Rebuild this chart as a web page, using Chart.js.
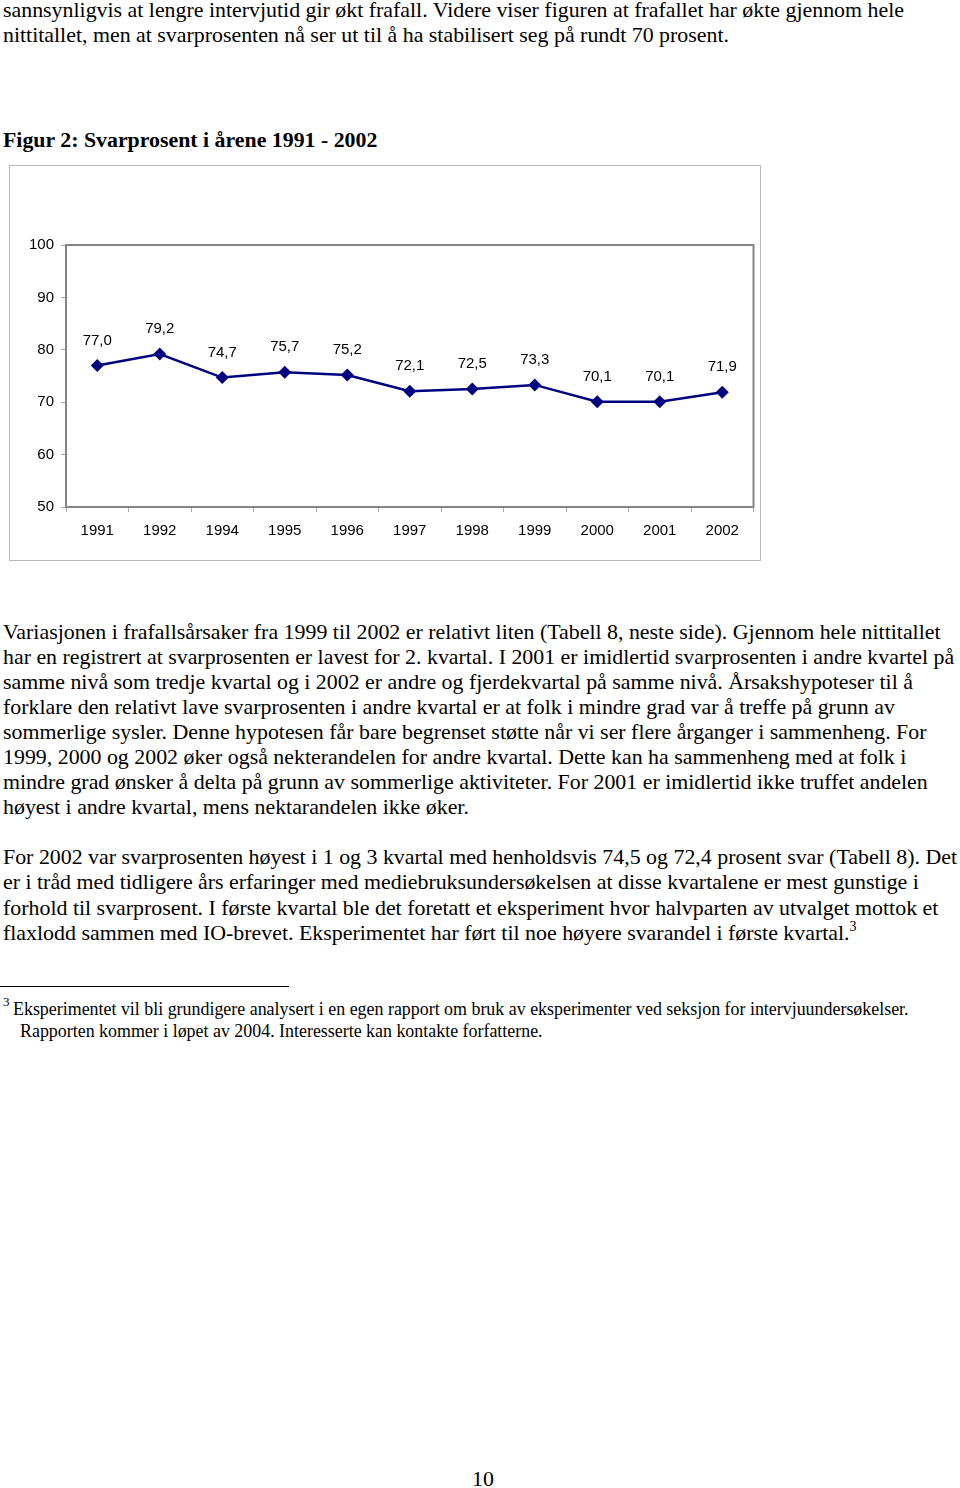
<!DOCTYPE html>
<html>
<head>
<meta charset="utf-8">
<script src="https://cdn.jsdelivr.net/npm/chart.js@4.4.0/dist/chart.umd.min.js"></script>
<style>
  body { margin: 0; background: #fff; width: 960px; height: 1488px; position: relative; overflow: hidden; color: #000; }
  .ln { position: absolute; white-space: nowrap; transform-origin: 0 0; font-family: "Liberation Serif", "Times New Roman", serif; }
  .sup { position: relative; line-height: 0; }
  #frame { position: absolute; left: 9px; top: 165px; width: 752px; height: 396px; border: 1px solid #b8b8b8; box-sizing: border-box; }
  #wrap { position: absolute; left: 10px; top: 166px; width: 750px; height: 394px; }
  #rule { position: absolute; left: 0; top: 986px; width: 289px; height: 1px; background: #000; }
</style>
</head>
<body>
<div id="frame"></div>
<div id="wrap"><canvas id="chart" width="750" height="394"></canvas></div>
<div id="rule"></div>

<script>
// chart data
const years = ['1991', '1992', '1994', '1995', '1996', '1997', '1998', '1999', '2000', '2001', '2002']
const svarprosent = [77.0, 79.2, 74.7, 75.7, 75.2, 72.1, 72.5, 73.3, 70.1, 70.1, 71.9]
const yMin = 50
const yMax = 100
const yStep = 10

// page text
const introLines = [
  'sannsynligvis at lengre intervjutid gir økt frafall. Videre viser figuren at frafallet har økte gjennom hele',
  'nittitallet, men at svarprosenten nå ser ut til å ha stabilisert seg på rundt 70 prosent.'
]
const figTitle = 'Figur 2: Svarprosent i årene 1991 - 2002'
const para1Lines = [
  'Variasjonen i frafallsårsaker fra 1999 til 2002 er relativt liten (Tabell 8, neste side). Gjennom hele nittitallet',
  'har en registrert at svarprosenten er lavest for 2. kvartal. I 2001 er imidlertid svarprosenten i andre kvartel på',
  'samme nivå som tredje kvartal og i 2002 er andre og fjerdekvartal på samme nivå. Årsakshypoteser til å',
  'forklare den relativt lave svarprosenten i andre kvartal er at folk i mindre grad var å treffe på grunn av',
  'sommerlige sysler. Denne hypotesen får bare begrenset støtte når vi ser flere årganger i sammenheng. For',
  '1999, 2000 og 2002 øker også nekterandelen for andre kvartal. Dette kan ha sammenheng med at folk i',
  'mindre grad ønsker å delta på grunn av sommerlige aktiviteter. For 2001 er imidlertid ikke truffet andelen',
  'høyest i andre kvartal, mens nektarandelen ikke øker.'
]
const para2Lines = [
  'For 2002 var svarprosenten høyest i 1 og 3 kvartal med henholdsvis 74,5 og 72,4 prosent svar (Tabell 8). Det',
  'er i tråd med tidligere års erfaringer med mediebruksundersøkelsen at disse kvartalene er mest gunstige i',
  'forhold til svarprosent. I første kvartal ble det foretatt et eksperiment hvor halvparten av utvalget mottok et',
  'flaxlodd sammen med IO-brevet. Eksperimentet har ført til noe høyere svarandel i første kvartal.'
]
const noteLines = [
  'Eksperimentet vil bli grundigere analysert i en egen rapport om bruk av eksperimenter ved seksjon for intervjuundersøkelser.',
  'Rapporten kommer i løpet av 2004. Interesserte kan kontakte forfatterne.'
]
const pageNo = '10'

// measure helper, used to size the serif text to the page
const mctx = document.createElement('canvas').getContext('2d')
function textWidth(txt, size, weight) {
  mctx.font = `${weight || 'normal'} ${size}px "Liberation Serif"`
  return mctx.measureText(txt).width
}

// put one line of text with its baseline at y
function place(txt, x, base, size, opts) {
  opts = opts || {}
  const d = document.createElement('div')
  d.className = 'ln'
  d.style.fontSize = size + 'px'
  d.style.lineHeight = size + 'px'
  d.style.left = x + 'px'
  d.style.top = (base - 0.8375 * size) + 'px'
  if (opts.bold) d.style.fontWeight = 'bold'
  if (opts.sx) d.style.transform = `scaleX(${opts.sx})`
  d.textContent = txt
  if (opts.sup) {
    const s = document.createElement('span')
    s.className = 'sup'
    s.textContent = opts.sup
    s.style.fontSize = Math.round(size * 0.62) + 'px'
    s.style.top = -Math.round(size * 0.42) + 'px'
    d.appendChild(s)
  }
  document.body.appendChild(d)
  return d
}

function layoutText() {
  // body size from the first paragraph line width in the page
  const bodySize = 20 * 938 / textWidth(para1Lines[0], 20)
  introLines.forEach((t, i) => place(t, 3, 18 + i * 25, bodySize))

  const titleSize = 20 * 375 / textWidth(figTitle, 20, 'bold')
  place(figTitle, 3, 148, titleSize, { bold: true })

  para1Lines.forEach((t, i) => place(t, 3, 640 + i * 25.1, bodySize))

  // second paragraph is set narrower in the original
  const sx = 954 / textWidth(para2Lines[0], bodySize)
  para2Lines.forEach((t, i) => place(t, 3, 865 + i * 25.6, bodySize, {
    sx: sx, sup: i === para2Lines.length - 1 ? '3' : null
  }))

  const noteSize = 20 * 896 / textWidth(noteLines[0], 20)
  place('3', 3, 1006, Math.round(noteSize * 0.7))
  place(noteLines[0], 13, 1016.5, noteSize)
  place(noteLines[1], 20, 1038.5, noteSize)

  place(pageNo, 472, 1487, bodySize)
}

// frame round the plot area
const plotFrame = {
  id: 'plotFrame',
  beforeDatasetsDraw(chart) {
    const { ctx, chartArea: a } = chart
    ctx.save()
    ctx.strokeStyle = '#858585'
    ctx.lineWidth = 2
    ctx.strokeRect(a.left, a.top, a.right - a.left, a.bottom - a.top)
    ctx.restore()
  }
}

// value labels above the points, comma decimals
const valueLabels = {
  id: 'valueLabels',
  afterDatasetsDraw(chart) {
    const { ctx } = chart
    const meta = chart.getDatasetMeta(0)
    ctx.save()
    ctx.font = '15px "Liberation Sans", Arial, sans-serif'
    ctx.fillStyle = '#000'
    ctx.textAlign = 'center'
    ctx.textBaseline = 'middle'
    meta.data.forEach((pt, i) => {
      const v = chart.data.datasets[0].data[i]
      ctx.fillText(v.toFixed(1).replace('.', ','), pt.x, pt.y - 25)
    })
    ctx.restore()
  }
}

function drawChart() {
  const ctx = document.getElementById('chart').getContext('2d')
  new Chart(ctx, {
    type: 'line',
    data: {
      labels: years,
      datasets: [{
        label: 'Svarprosent',
        data: svarprosent,
        borderColor: '#000080',
        backgroundColor: '#000080',
        borderWidth: 2.5,
        pointStyle: 'rectRot',
        pointRadius: 6.5,
        pointBorderWidth: 0,
        tension: 0,
      }]
    },
    options: {
      responsive: false,
      animation: false,
      devicePixelRatio: 1,
      layout: { padding: { top: 79, right: 1, bottom: 0, left: 0 } },
      plugins: { legend: { display: false }, tooltip: { enabled: false } },
      scales: {
        x: {
          offset: true,
          grid: { offset: true, drawOnChartArea: false, drawTicks: true, tickLength: 5, color: '#a8a8a8' },
          border: { color: '#858585', width: 2 },
          ticks: {
            autoSkip: false, maxRotation: 0, padding: 10, color: '#000',
            font: { family: '"Liberation Sans", Arial, sans-serif', size: 15 }
          },
          afterFit(scale) { scale.height = 53 }
        },
        y: {
          min: yMin,
          max: yMax,
          grid: { drawOnChartArea: false, drawTicks: true, tickLength: 5, color: '#a8a8a8' },
          border: { color: '#858585', width: 2 },
          ticks: {
            stepSize: yStep, padding: 7, color: '#000',
            font: { family: '"Liberation Sans", Arial, sans-serif', size: 15 }
          },
          afterFit(scale) { scale.width = 56 }
        }
      }
    },
    plugins: [plotFrame, valueLabels]
  })
}

layoutText()
drawChart()
</script>
</body>
</html>
